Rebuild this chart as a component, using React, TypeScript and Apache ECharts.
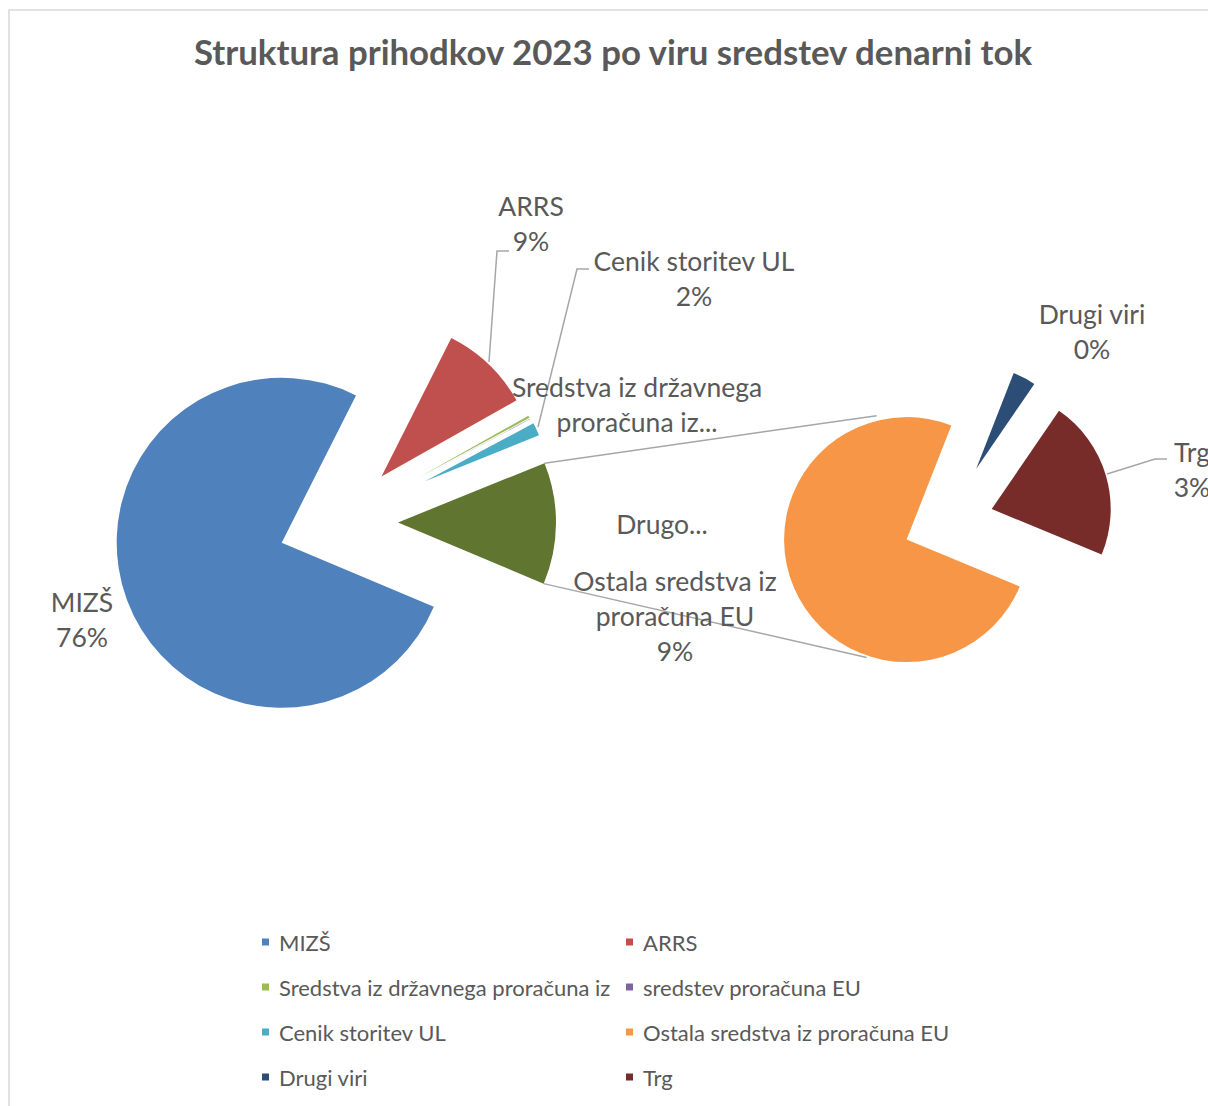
import React, { useEffect, useRef } from "react";
import * as echarts from "echarts";

const TITLE = "Struktura prihodkov 2023 po viru sredstev denarni tok";

// main pie categories (clockwise from start)
const mainNames = [
  "MIZŠ",
  "ARRS",
  "Sredstva iz državnega proračuna iz",
  "sredstev proračuna EU",
  "Cenik storitev UL",
];
const mainValues = [76.1, 9.4, 0.3, 0.05, 1.7];

// secondary pie ("Drugo...") categories
const otherNames = ["Ostala sredstva iz proračuna EU", "Drugi viri", "Trg"];
const otherValues = [9.3, 0.45, 2.7];
const otherGroupName = "Drugo...";

const mainColors = ["#4F81BD", "#C0504D", "#9BBB59", "#8064A2", "#4BACC6"];
const otherGroupColor = "#5F7530";
const otherColors = ["#F79646", "#2C4D75", "#772C2A"];

const legendLeft = ["MIZŠ", "Sredstva iz državnega proračuna iz", "Cenik storitev UL", "Drugi viri"];
const legendRight = ["ARRS", "sredstev proračuna EU", "Ostala sredstva iz proračuna EU", "Trg"];

// layout constants
const FONT = "Lato";
const TEXT = "#595959";
const LEADER = "#A6A6A6";
const MAIN_C = [338, 522];
const MAIN_START = 337.2;
const mainOffsets = [60, 63, 92, 92, 96, 60]; // explosion per slice (incl. "Drugo")
const mainRadii = [165, 155, 126, 126, 123, 158];
const SEC_C = [948, 522];
const SEC_START = 337.5;
const secOffsets = [45, 60, 45.6];
const secRadii = [122.5, 103, 119];
const CONNECT_ANGLES = [103.6, -108.7];

type LabelPos = { x: number; y: number; text?: string; line?: number[][] };
const labelPos: Record<string, LabelPos> = {
  "MIZŠ": { x: 82, y: 619 },
  "ARRS": { x: 531, y: 223, line: [[489, 362], [497, 251], [509, 251]] },
  "Sredstva iz državnega proračuna iz": { x: 637, y: 404, text: "Sredstva iz državnega\nproračuna iz..." },
  "Cenik storitev UL": { x: 694, y: 278, line: [[538, 427], [577, 269], [589, 269]] },
  "Drugo...": { x: 662, y: 524, text: "Drugo..." },
  "Ostala sredstva iz proračuna EU": { x: 675, y: 616, text: "Ostala sredstva iz\nproračuna EU\n{p}" },
  "Drugi viri": { x: 1092, y: 331 },
  "Trg": { x: 1192, y: 469, line: [[1107, 474], [1155, 459], [1167, 459]] },
};

const sum = (a: number[]) => a.reduce((s, v) => s + v, 0);
const rad = (d: number) => (d * Math.PI) / 180;
const pt = (c: number[], r: number, a: number) => [c[0] + r * Math.cos(rad(a)), c[1] - r * Math.sin(rad(a))];

export default function App() {
  const ref = useRef<HTMLDivElement>(null);
  useEffect(() => {
    if (!ref.current) return;
    const chart = echarts.init(ref.current, null, { renderer: "svg" });
    const otherTotal = sum(otherValues);
    const total = sum(mainValues) + otherTotal;
    const pct = (v: number) => Math.round((v / total) * 100) + "%";

    const fmt = (p: any) => {
      const lp = labelPos[p.name];
      const val = p.value as number;
      if (lp && lp.text) return lp.text.replace("{p}", pct(val));
      return p.name + "\n" + pct(val);
    };

    const labelCommon = {
      show: true,
      position: "outside",
      color: TEXT,
      fontFamily: FONT,
      fontSize: 26.5,
      lineHeight: 35,
      formatter: fmt,
    };
    const lineCommon = { show: true, length: 10, length2: 10, lineStyle: { color: LEADER, width: 1.5 } };
    const hidden = (value: number) => ({
      value,
      name: "",
      itemStyle: { color: "rgba(0,0,0,0)" },
      label: { show: false },
      labelLine: { show: false },
    });

    const sliceGeom = (values: number[], start: number, center: number[], offsets: number[], idx: number) => {
      const tot = sum(values);
      const before = sum(values.slice(0, idx));
      const v = values[idx];
      const a0 = start - (360 * before) / tot;
      const a1 = a0 - (360 * v) / tot;
      const c = pt(center, offsets[idx], (a0 + a1) / 2);
      return { tot, before, v, a0, a1, c };
    };

    const sliceSeries = (
      names: string[],
      values: number[],
      colors: string[],
      start: number,
      center: number[],
      offsets: number[],
      radii: number[],
      idx: number
    ) => {
      const g = sliceGeom(values, start, center, offsets, idx);
      const name = names[idx];
      const lp = labelPos[name];
      return {
        type: "pie",
        center: g.c,
        radius: radii[idx],
        startAngle: start,
        clockwise: true,
        silent: true,
        avoidLabelOverlap: false,
        emphasis: { disabled: true },
        label: labelCommon,
        labelLine: lineCommon,
        labelLayout: (params: any) => {
          if (params.dataIndex !== 1 || !lp) return {};
          const o: any = { x: lp.x, y: lp.y, align: "center", verticalAlign: "middle" };
          if (lp.line) o.labelLinePoints = lp.line;
          return o;
        },
        data: [
          hidden(g.before),
          {
            name,
            value: g.v,
            itemStyle: { color: colors[idx] },
            label: { show: !!lp },
            labelLine: { show: !!(lp && lp.line) },
          },
          hidden(g.tot - g.before - g.v),
        ],
      };
    };

    const mainAllNames = [...mainNames, otherGroupName];
    const mainAllValues = [...mainValues, otherTotal];
    const mainAllColors = [...mainColors, otherGroupColor];

    const series: any[] = [];
    mainAllNames.forEach((_, i) =>
      series.push(sliceSeries(mainAllNames, mainAllValues, mainAllColors, MAIN_START, MAIN_C, mainOffsets, mainRadii, i))
    );
    otherNames.forEach((_, i) =>
      series.push(sliceSeries(otherNames, otherValues, otherColors, SEC_START, SEC_C, secOffsets, secRadii, i))
    );

    // connector lines from the "Drugo" slice to the secondary pie
    const gi = mainAllNames.length - 1;
    const gg = sliceGeom(mainAllValues, MAIN_START, MAIN_C, mainOffsets, gi);
    const gTop = pt(gg.c, mainRadii[gi], gg.a0);
    const gBot = pt(gg.c, mainRadii[gi], gg.a1);
    const og = sliceGeom(otherValues, SEC_START, SEC_C, secOffsets, 0);
    const sTop = pt(og.c, secRadii[0] + 5, CONNECT_ANGLES[0]);
    const sBot = pt(og.c, secRadii[0] + 2, CONNECT_ANGLES[1]);

    const legendCommon = {
      orient: "vertical",
      top: 931,
      padding: 0,
      icon: "rect",
      itemWidth: 7,
      itemHeight: 7,
      itemGap: 23,
      selectedMode: false,
      textStyle: { fontFamily: FONT, fontSize: 22, color: TEXT, lineHeight: 22, padding: [0, 0, 0, 5] },
    };

    chart.setOption({
      animation: false,
      backgroundColor: "#FFFFFF",
      title: {
        text: TITLE,
        left: 613,
        textAlign: "center",
        top: 34,
        padding: 0,
        textStyle: { fontFamily: FONT, fontWeight: "bold", fontSize: 34.8, color: TEXT },
      },
      legend: [
        { ...legendCommon, left: 262, data: legendLeft },
        { ...legendCommon, left: 626, data: legendRight },
      ],
      graphic: [
        { type: "rect", shape: { x: 9, y: 10, width: 1400, height: 1400 }, style: { fill: "none", stroke: "#D9D9D9", lineWidth: 1.5 }, silent: true },
        { type: "line", shape: { x1: gTop[0], y1: gTop[1], x2: sTop[0], y2: sTop[1] }, style: { stroke: LEADER, lineWidth: 1.5 }, silent: true, z: 1 },
        { type: "line", shape: { x1: gBot[0], y1: gBot[1], x2: sBot[0], y2: sBot[1] }, style: { stroke: LEADER, lineWidth: 1.5 }, silent: true, z: 1 },
      ],
      series,
    });
    return () => chart.dispose();
  }, []);
  return (
    <div
      ref={ref}
      style={{ position: "fixed", left: 0, top: 0, width: 1208, height: 1106, background: "#fff" }}
    />
  );
}
